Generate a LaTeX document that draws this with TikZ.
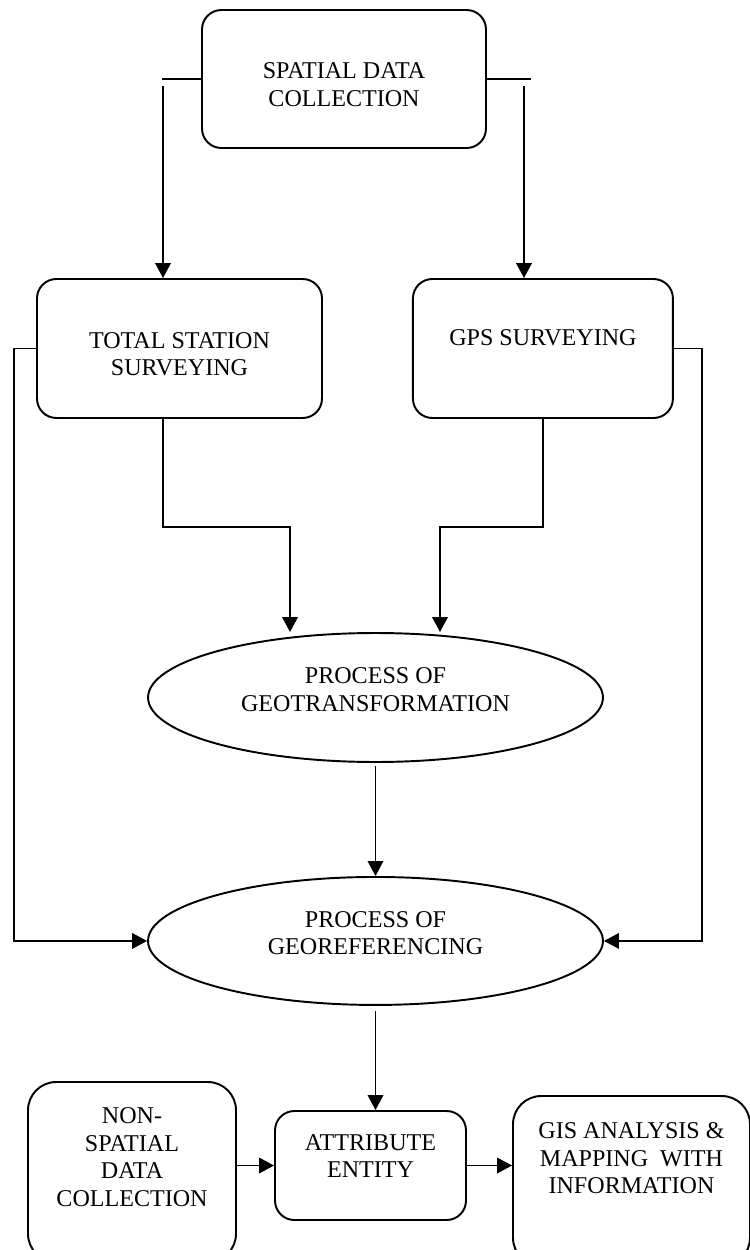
\documentclass[tikz,border=0pt]{standalone}
\usepackage{fontspec}
\setmainfont{Liberation Serif}
\usetikzlibrary{arrows, arrows.meta, shapes.geometric, positioning}

\begin{document}
\begin{tikzpicture}[->,>={Triangle[length=8.5pt,width=8.8pt]},line width=1.1pt,
 x=0.02cm,y=-0.02cm,node distance=7.27cm,
 font=\fontsize{13.7}{15.6}\selectfont]
 \tikzstyle{box}=[draw,rectangle,rounded corners=11pt,align=center,inner sep=0pt]
 \tikzstyle{oval}=[draw,ellipse,align=center,inner sep=0pt,minimum width=9.1cm,text depth=9pt]

 \useasboundingbox (0,0) rectangle (750,1250);

 \node[box,minimum width=5.68cm,minimum height=2.76cm,text height=31.3pt] (spatial) at (344,79) {SPATIAL DATA\\COLLECTION};
 \node[box,minimum width=5.7cm,minimum height=2.78cm,text height=31.3pt] (ts) at (179.5,348.5) {TOTAL STATION\\SURVEYING};
 \node[box,minimum width=5.2cm,minimum height=2.78cm,text depth=12.4pt] (gps) [right of=ts] {GPS SURVEYING};

 \node[oval,minimum height=2.58cm] (geotrans) at (375.5,697.5) {PROCESS OF\\GEOTRANSFORMATION};
 \node[oval,minimum height=2.56cm] (georef) [below of=geotrans,node distance=4.87cm] {PROCESS OF\\GEOREFERENCING};

 \node[box,rounded corners=16pt,minimum width=4.16cm,minimum height=3.6cm,text depth=17pt] (nonspatial) at (132,1172) {NON-\\SPATIAL\\DATA\\COLLECTION};
 \node[box,minimum width=3.82cm,minimum height=2.18cm,text depth=10.8pt] (attr) at (370.5,1165.5) {ATTRIBUTE\\ENTITY};
 \node[box,rounded corners=16pt,minimum width=4.74cm,minimum height=3.4cm,text depth=26pt] (gis) at (631.5,1181) {GIS ANALYSIS \&\\MAPPING~~WITH\\INFORMATION};

 \coordinate (l1) at (163,86);
 \coordinate (r1) at (524,86);
 \draw[-] (spatial.west) -- ++(-39,0);
 \draw[-] (spatial.east) -- ++(44,0);
 \draw (l1) -- (l1 |- ts.north);
 \draw (r1) -- (r1 |- gps.north);

 \draw (ts.south -| l1) -- ++(0,108) -| ([xshift=-1.71cm]geotrans.north);
 \draw (gps.south) -- ++(0,108) -| ([xshift=1.29cm]geotrans.north);
 \draw (ts.west) -- ++(-22,0) |- (georef.west);
 \draw[line width=0.8pt] (gps.east) -- ++(28,0) |- (georef.east);

 \draw[shorten <=2pt] (geotrans.south) -- (georef.north);
 \draw[shorten <=3pt] (georef.south) -- (georef.south |- attr.north);
 \draw (nonspatial.east |- attr.west) -- (attr.west);
 \draw (attr.east) -- (attr.east -| gis.west);
\end{tikzpicture}
\end{document}
